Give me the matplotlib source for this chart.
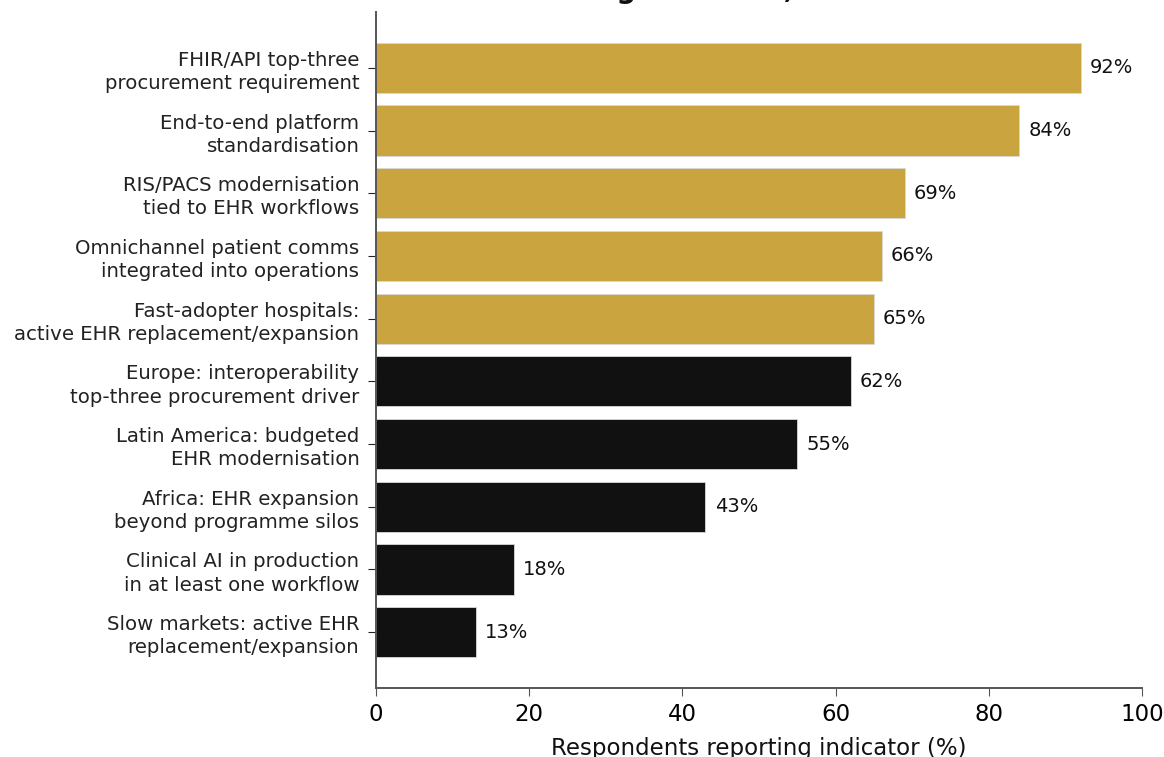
import matplotlib
matplotlib.use("Agg")
import matplotlib.pyplot as plt

# Indicator labels (top to bottom) and share of respondents reporting each
indicators = [
    "FHIR/API top-three\nprocurement requirement",
    "End-to-end platform\nstandardisation",
    "RIS/PACS modernisation\ntied to EHR workflows",
    "Omnichannel patient comms\nintegrated into operations",
    "Fast-adopter hospitals:\nactive EHR replacement/expansion",
    "Europe: interoperability\ntop-three procurement driver",
    "Latin America: budgeted\nEHR modernisation",
    "Africa: EHR expansion\nbeyond programme silos",
    "Clinical AI in production\nin at least one workflow",
    "Slow markets: active EHR\nreplacement/expansion",
]
shares = [92, 84, 69, 66, 65, 62, 55, 43, 18, 13]
highlight = [True, True, True, True, True, False, False, False, False, False]
xticks = [0, 20, 40, 60, 80, 100]
headline = "EHR renewal and AI: the big overhaul, 2025"

gold = "#C9A43F"
dark = "#111111"
colors = [gold if h else dark for h in highlight]

W, H = 1164, 757
fig = plt.figure(figsize=(W / 100, H / 100), dpi=100)
ax = fig.add_axes([376 / W, 1 - 688 / H, (1142 - 376) / W, (688 - 12) / H])

pos = list(range(len(indicators)))
bars = ax.barh(pos, shares, height=0.8, color=colors, edgecolor="#d9d9d9", linewidth=0.6)
ax.invert_yaxis()
ax.set_yticks(pos)
ax.set_yticklabels(indicators, fontsize=14.2, color="#222222", linespacing=1.28)
ax.set_xlim(0, 100)
ax.set_xticks(xticks)
ax.tick_params(axis="x", labelsize=16.5, length=6, color="#555555", pad=5)
ax.tick_params(axis="y", length=6, color="#222222", pad=6)
ax.set_xlabel("Respondents reporting indicator (%)", fontsize=16.5, color="#111111",
              labelpad=8)

for b, v in zip(bars, shares):
    ax.text(v + 1.2, b.get_y() + b.get_height() / 2, f"{v}%", va="center", ha="left",
            fontsize=14, color="#111111")

for s in ("top", "right"):
    ax.spines[s].set_visible(False)
for s in ("left", "bottom"):
    ax.spines[s].set_color("#555555")
    ax.spines[s].set_linewidth(1.4)

# Headline sits high, largely above the canvas edge; left edge set so that
# the "big" descender lands around x = 622 px
title_kw = dict(fontsize=20, fontweight="bold", color="#111111", va="baseline")
renderer = fig.canvas.get_renderer()
probe = fig.text(0, 0, headline[:headline.index("big") + 2], **title_kw)
prefix_w = probe.get_window_extent(renderer).width
probe.remove()
fig.text((616 - prefix_w) / W, 1 + 1.5 / H, headline, ha="left", **title_kw)

fig.savefig("out.png", dpi=100)
